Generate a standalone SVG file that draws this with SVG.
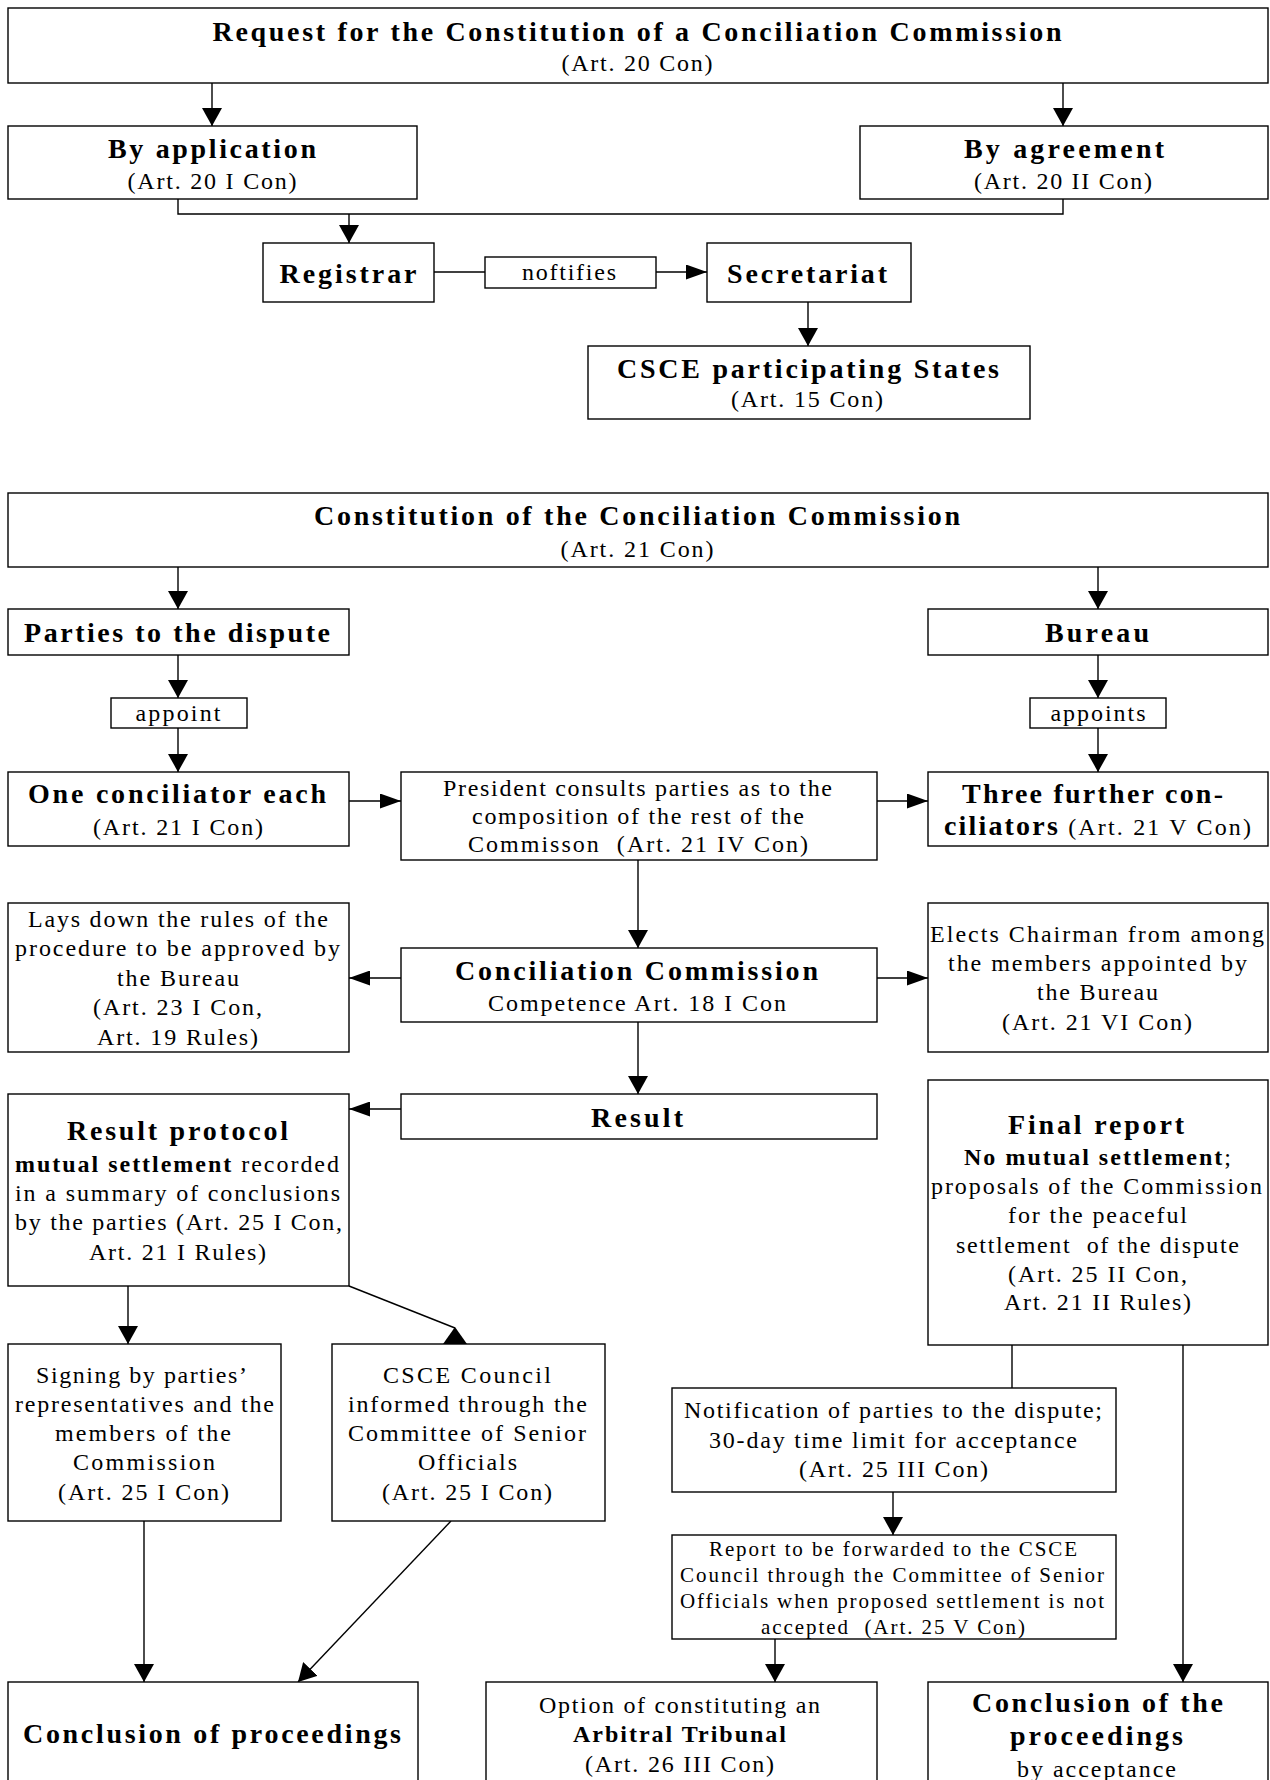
<svg xmlns="http://www.w3.org/2000/svg" width="1270" height="1780" viewBox="0 0 1270 1780">
<style>
  .box { fill: #fff; stroke: #000; stroke-width: 1.4; }
  .ln { fill: none; stroke: #000; stroke-width: 1.4; }
  text { font-family: "Liberation Serif", "Times New Roman", serif; fill: #000; text-anchor: middle; }
  .t { font-size: 28px; font-weight: bold; }
  .r { font-size: 24px; }
  .s { font-size: 21px; }
  .b { font-weight: bold; }
</style>
<defs>
  <marker id="av" markerUnits="userSpaceOnUse" markerWidth="18" markerHeight="20" viewBox="0 0 18 20" refX="18" refY="10" orient="auto">
    <path d="M0,0 L18,10 L0,20 z" fill="#000"/>
  </marker>
  <marker id="ah" markerUnits="userSpaceOnUse" markerWidth="21" markerHeight="15" viewBox="0 0 21 15" refX="21" refY="7.5" orient="auto">
    <path d="M0,0 L21,7.5 L0,15 z" fill="#000"/>
  </marker>
</defs>
<rect width="1270" height="1780" fill="#fff"/>

<g id="connectors">
  <line class="ln" x1="212" y1="83" x2="212" y2="126" marker-end="url(#av)"/>
  <line class="ln" x1="1063" y1="83" x2="1063" y2="126" marker-end="url(#av)"/>
  <polyline class="ln" points="178,199 178,214 1063,214 1063,199"/>
  <line class="ln" x1="349" y1="214" x2="349" y2="243" marker-end="url(#av)"/>
  <line class="ln" x1="434" y1="272" x2="485" y2="272"/>
  <line class="ln" x1="656" y1="272" x2="707" y2="272" marker-end="url(#ah)"/>
  <line class="ln" x1="808" y1="302" x2="808" y2="346" marker-end="url(#av)"/>

  <line class="ln" x1="178" y1="567" x2="178" y2="609" marker-end="url(#av)"/>
  <line class="ln" x1="1098" y1="567" x2="1098" y2="609" marker-end="url(#av)"/>
  <line class="ln" x1="178" y1="655" x2="178" y2="698" marker-end="url(#av)"/>
  <line class="ln" x1="1098" y1="655" x2="1098" y2="698" marker-end="url(#av)"/>
  <line class="ln" x1="178" y1="728" x2="178" y2="772" marker-end="url(#av)"/>
  <line class="ln" x1="1098" y1="728" x2="1098" y2="772" marker-end="url(#av)"/>
  <line class="ln" x1="349" y1="801" x2="401" y2="801" marker-end="url(#ah)"/>
  <line class="ln" x1="877" y1="801" x2="928" y2="801" marker-end="url(#ah)"/>
  <line class="ln" x1="638" y1="860" x2="638" y2="948" marker-end="url(#av)"/>
  <line class="ln" x1="401" y1="978" x2="349" y2="978" marker-end="url(#ah)"/>
  <line class="ln" x1="877" y1="978" x2="928" y2="978" marker-end="url(#ah)"/>
  <line class="ln" x1="638" y1="1022" x2="638" y2="1094" marker-end="url(#av)"/>
  <line class="ln" x1="401" y1="1109" x2="349" y2="1109" marker-end="url(#ah)"/>
  <line class="ln" x1="128" y1="1286" x2="128" y2="1344" marker-end="url(#av)"/>
  <line class="ln" x1="349" y1="1286" x2="455" y2="1328"/>
  <polygon points="455,1327 443,1344 467,1344" fill="#000"/>
  <line class="ln" x1="1012" y1="1345" x2="1012" y2="1388"/>
  <line class="ln" x1="1183" y1="1345" x2="1183" y2="1682" marker-end="url(#av)"/>
  <line class="ln" x1="893" y1="1492" x2="893" y2="1535" marker-end="url(#av)"/>
  <line class="ln" x1="775" y1="1639" x2="775" y2="1682" marker-end="url(#av)"/>
  <line class="ln" x1="144" y1="1521" x2="144" y2="1682" marker-end="url(#av)"/>
  <line class="ln" x1="451" y1="1521" x2="298" y2="1682" marker-end="url(#av)"/>
</g>

<g id="n-request">
  <rect class="box" x="8" y="8" width="1260" height="75"/>
  <text class="t" x="637" y="41" textLength="849" lengthAdjust="spacing">Request for the Constitution of a Conciliation Commission</text>
  <text class="r" x="637" y="71" textLength="151" lengthAdjust="spacing">(Art. 20 Con)</text>
</g>
<g id="n-application">
  <rect class="box" x="8" y="126" width="409" height="73"/>
  <text class="t" x="212" y="158" textLength="208" lengthAdjust="spacing">By application</text>
  <text class="r" x="212" y="189" textLength="169" lengthAdjust="spacing">(Art. 20 I Con)</text>
</g>
<g id="n-agreement">
  <rect class="box" x="860" y="126" width="408" height="73"/>
  <text class="t" x="1064" y="158" textLength="200" lengthAdjust="spacing">By agreement</text>
  <text class="r" x="1063" y="189" textLength="178" lengthAdjust="spacing">(Art. 20 II Con)</text>
</g>
<g id="n-registrar">
  <rect class="box" x="263" y="243" width="171" height="59"/>
  <text class="t" x="348" y="283" textLength="137" lengthAdjust="spacing">Registrar</text>
</g>
<g id="n-notifies">
  <rect class="box" x="485" y="257" width="171" height="31"/>
  <text class="r" x="569" y="280" textLength="94" lengthAdjust="spacing">noftifies</text>
</g>
<g id="n-secretariat">
  <rect class="box" x="707" y="243" width="204" height="59"/>
  <text class="t" x="807" y="283" textLength="160" lengthAdjust="spacing">Secretariat</text>
</g>
<g id="n-states">
  <rect class="box" x="588" y="346" width="442" height="73"/>
  <text class="t" x="808" y="378" textLength="382" lengthAdjust="spacing">CSCE participating States</text>
  <text class="r" x="807" y="407" textLength="152" lengthAdjust="spacing">(Art. 15 Con)</text>
</g>

<g id="n-constitution">
  <rect class="box" x="8" y="493" width="1260" height="74"/>
  <text class="t" x="637" y="525" textLength="646" lengthAdjust="spacing">Constitution of the Conciliation Commission</text>
  <text class="r" x="637" y="557" textLength="153" lengthAdjust="spacing">(Art. 21 Con)</text>
</g>
<g id="n-parties">
  <rect class="box" x="8" y="609" width="341" height="46"/>
  <text class="t" x="177" y="642" textLength="306" lengthAdjust="spacing">Parties to the dispute</text>
</g>
<g id="n-bureau">
  <rect class="box" x="928" y="609" width="340" height="46"/>
  <text class="t" x="1097" y="642" textLength="104" lengthAdjust="spacing">Bureau</text>
</g>
<g id="n-appoint">
  <rect class="box" x="111" y="698" width="136" height="30"/>
  <text class="r" x="178" y="721" textLength="85" lengthAdjust="spacing">appoint</text>
</g>
<g id="n-appoints">
  <rect class="box" x="1030" y="698" width="136" height="30"/>
  <text class="r" x="1098" y="721" textLength="95" lengthAdjust="spacing">appoints</text>
</g>
<g id="n-one">
  <rect class="box" x="8" y="772" width="341" height="74"/>
  <text class="t" x="177" y="803" textLength="298" lengthAdjust="spacing">One conciliator each</text>
  <text class="r" x="178" y="835" textLength="170" lengthAdjust="spacing">(Art. 21 I Con)</text>
</g>
<g id="n-president">
  <rect class="box" x="401" y="772" width="476" height="88"/>
  <text class="r" x="637.5" y="796" textLength="389" lengthAdjust="spacing">President consults parties as to the</text>
  <text class="r" x="638" y="824" textLength="332" lengthAdjust="spacing">composition of the rest of the</text>
  <text class="r" x="638" y="852" textLength="340" lengthAdjust="spacing">Commisson &#160;(Art. 21 IV Con)</text>
</g>
<g id="n-three">
  <rect class="box" x="928" y="772" width="340" height="74"/>
  <text class="t" x="1092.5" y="803" textLength="261" lengthAdjust="spacing">Three further con-</text>
  <text class="r" x="1097.5" y="835" textLength="307" lengthAdjust="spacing"><tspan class="b" font-size="28">ciliators</tspan> (Art. 21 V Con)</text>
</g>
<g id="n-lays">
  <rect class="box" x="8" y="903" width="341" height="149"/>
  <text class="r" x="178" y="927" textLength="300" lengthAdjust="spacing">Lays down the rules of the</text>
  <text class="r" x="177.5" y="956" textLength="325" lengthAdjust="spacing">procedure to be approved by</text>
  <text class="r" x="178" y="986" textLength="122" lengthAdjust="spacing">the Bureau</text>
  <text class="r" x="177.5" y="1015" textLength="169" lengthAdjust="spacing">(Art. 23 I Con,</text>
  <text class="r" x="177.5" y="1045" textLength="161" lengthAdjust="spacing">Art. 19 Rules)</text>
</g>
<g id="n-commission">
  <rect class="box" x="401" y="948" width="476" height="74"/>
  <text class="t" x="636.5" y="980" textLength="363" lengthAdjust="spacing">Conciliation Commission</text>
  <text class="r" x="637" y="1011" textLength="298" lengthAdjust="spacing">Competence Art. 18 I Con</text>
</g>
<g id="n-elects">
  <rect class="box" x="928" y="903" width="340" height="149"/>
  <text class="r" x="1097" y="942" textLength="334" lengthAdjust="spacing">Elects Chairman from among</text>
  <text class="r" x="1097.5" y="971" textLength="299" lengthAdjust="spacing">the members appointed by</text>
  <text class="r" x="1097.5" y="1000" textLength="121" lengthAdjust="spacing">the Bureau</text>
  <text class="r" x="1097" y="1030" textLength="190" lengthAdjust="spacing">(Art. 21 VI Con)</text>
</g>
<g id="n-result">
  <rect class="box" x="401" y="1094" width="476" height="45"/>
  <text class="t" x="637" y="1127" textLength="92" lengthAdjust="spacing">Result</text>
</g>
<g id="n-protocol">
  <rect class="box" x="8" y="1094" width="341" height="192"/>
  <text class="t" x="177.5" y="1140" textLength="221" lengthAdjust="spacing">Result protocol</text>
  <text class="r" x="177" y="1172" textLength="324" lengthAdjust="spacing"><tspan class="b">mutual settlement</tspan> recorded</text>
  <text class="r" x="177.5" y="1201" textLength="325" lengthAdjust="spacing">in a summary of conclusions</text>
  <text class="r" x="178.5" y="1230" textLength="327" lengthAdjust="spacing">by the parties (Art. 25 I Con,</text>
  <text class="r" x="177.5" y="1260" textLength="177" lengthAdjust="spacing">Art. 21 I Rules)</text>
</g>
<g id="n-final">
  <rect class="box" x="928" y="1080" width="340" height="265"/>
  <text class="t" x="1096" y="1134" textLength="176" lengthAdjust="spacing">Final report</text>
  <text class="r" x="1097.5" y="1165" textLength="267" lengthAdjust="spacing"><tspan class="b">No mutual settlement</tspan>;</text>
  <text class="r" x="1096.5" y="1194" textLength="331" lengthAdjust="spacing">proposals of the Commission</text>
  <text class="r" x="1097.5" y="1223" textLength="179" lengthAdjust="spacing">for the peaceful</text>
  <text class="r" x="1097.5" y="1253" textLength="283" lengthAdjust="spacing">settlement &#160;of the dispute</text>
  <text class="r" x="1097.5" y="1282" textLength="179" lengthAdjust="spacing">(Art. 25 II Con,</text>
  <text class="r" x="1097.5" y="1310" textLength="187" lengthAdjust="spacing">Art. 21 II Rules)</text>
</g>
<g id="n-signing">
  <rect class="box" x="8" y="1344" width="273" height="177"/>
  <text class="r" x="141.5" y="1383" textLength="211" lengthAdjust="spacing">Signing by parties’</text>
  <text class="r" x="144.5" y="1412" textLength="259" lengthAdjust="spacing">representatives and the</text>
  <text class="r" x="143" y="1441" textLength="176" lengthAdjust="spacing">members of the</text>
  <text class="r" x="144" y="1470" textLength="142" lengthAdjust="spacing">Commission</text>
  <text class="r" x="143.5" y="1500" textLength="171" lengthAdjust="spacing">(Art. 25 I Con)</text>
</g>
<g id="n-council">
  <rect class="box" x="332" y="1344" width="273" height="177"/>
  <text class="r" x="467" y="1383" textLength="168" lengthAdjust="spacing">CSCE Council</text>
  <text class="r" x="467.5" y="1412" textLength="239" lengthAdjust="spacing">informed through the</text>
  <text class="r" x="467" y="1441" textLength="238" lengthAdjust="spacing">Committee of Senior</text>
  <text class="r" x="467.5" y="1470" textLength="99" lengthAdjust="spacing">Officials</text>
  <text class="r" x="467" y="1500" textLength="170" lengthAdjust="spacing">(Art. 25 I Con)</text>
</g>
<g id="n-notification">
  <rect class="box" x="672" y="1388" width="444" height="104"/>
  <text class="r" x="893" y="1418" textLength="418" lengthAdjust="spacing">Notification of parties to the dispute;</text>
  <text class="r" x="893" y="1448" textLength="368" lengthAdjust="spacing">30-day time limit for acceptance</text>
  <text class="r" x="893.5" y="1477" textLength="189" lengthAdjust="spacing">(Art. 25 III Con)</text>
</g>
<g id="n-report">
  <rect class="box" x="672" y="1535" width="444" height="104"/>
  <text class="s" x="893" y="1556" textLength="368" lengthAdjust="spacing">Report to be forwarded to the CSCE</text>
  <text class="s" x="892" y="1582" textLength="424" lengthAdjust="spacing">Council through the Committee of Senior</text>
  <text class="s" x="892" y="1608" textLength="424" lengthAdjust="spacing">Officials when proposed settlement is not</text>
  <text class="s" x="893" y="1634" textLength="264" lengthAdjust="spacing">accepted &#160;(Art. 25 V Con)</text>
</g>
<g id="n-conclusion1">
  <rect class="box" x="8" y="1682" width="410" height="120"/>
  <text class="t" x="212" y="1743" textLength="378" lengthAdjust="spacing">Conclusion of proceedings</text>
</g>
<g id="n-option">
  <rect class="box" x="486" y="1682" width="391" height="120"/>
  <text class="r" x="679.5" y="1713" textLength="281" lengthAdjust="spacing">Option of constituting an</text>
  <text class="r b" x="679.5" y="1742" textLength="213" lengthAdjust="spacing">Arbitral Tribunal</text>
  <text class="r" x="679.5" y="1772" textLength="189" lengthAdjust="spacing">(Art. 26 III Con)</text>
</g>
<g id="n-conclusion2">
  <rect class="box" x="928" y="1682" width="340" height="120"/>
  <text class="t" x="1097.5" y="1712" textLength="251" lengthAdjust="spacing">Conclusion of the</text>
  <text class="t" x="1096.5" y="1745" textLength="173" lengthAdjust="spacing">proceedings</text>
  <text class="r" x="1096.5" y="1777" textLength="159" lengthAdjust="spacing">by acceptance</text>
</g>
</svg>
